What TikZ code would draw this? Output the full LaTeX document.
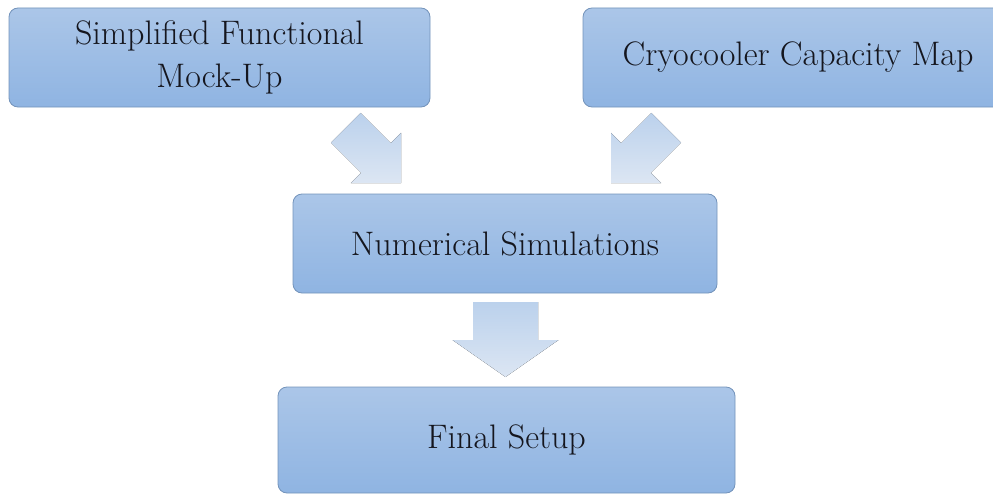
\documentclass[tikz,border=0pt]{standalone}
\usepackage{tikz}
\usetikzlibrary{positioning}
\definecolor{boxtop}{HTML}{ABC6E8}
\definecolor{boxbot}{HTML}{8FB4E2}
\definecolor{boxline}{HTML}{7393BA}
\definecolor{arrtop}{HTML}{BBD1EC}
\definecolor{arrbot}{HTML}{DCE6F3}
\definecolor{txt}{HTML}{15161E}
\tikzset{font=\fontsize{34}{43}\selectfont}
\tikzset{box/.style={draw=boxline, line width=.8pt, rounded corners=9pt,
  top color=boxtop, bottom color=boxbot, text=txt, align=center, inner sep=0pt}}
\tikzset{blockarrow/.style={top color=arrtop, bottom color=arrbot, draw=none}}

\begin{document}
\begin{tikzpicture}[x=1pt,y=-1pt]
\useasboundingbox (0,0) rectangle (993,495);
\clip (0,0) rectangle (993,495);
\node[box, minimum width=421pt, minimum height=99pt] (mockup) at (219.5,57.5) {Simplified Functional\\Mock-Up};
\node[box, minimum width=430pt, minimum height=99pt] (capmap) at (798,57.5) {Cryocooler Capacity Map};
\node[box, minimum width=424pt, minimum height=99pt] (numsim) at (505,243.5) {Numerical Simulations};
\node[box, minimum width=457pt, minimum height=106pt] (setup) at (506.5,440) {Final Setup};
% arrow tips
\coordinate (tipA) at (401,183);
\coordinate (tipB) at (611,183);
\coordinate (tipC) at (505.5,377);
\fill[blockarrow, shift={(tipA)}, rotate=-45] (0,0) -- (-35.4,35.4) -- (-35.4,21) -- (-78,21)
  -- (-78,-21) -- (-35.4,-21) -- (-35.4,-35.4) -- cycle;
\fill[blockarrow, shift={(tipB)}, rotate=-135] (0,0) -- (-35.4,35.4) -- (-35.4,21) -- (-78,21)
  -- (-78,-21) -- (-35.4,-21) -- (-35.4,-35.4) -- cycle;
\fill[blockarrow, shift={(tipC)}, rotate=-90] (0,0) -- (-37,53) -- (-37,32.5) -- (-75,32.5)
  -- (-75,-32.5) -- (-37,-32.5) -- (-37,-53) -- cycle;
\end{tikzpicture}
\end{document}
